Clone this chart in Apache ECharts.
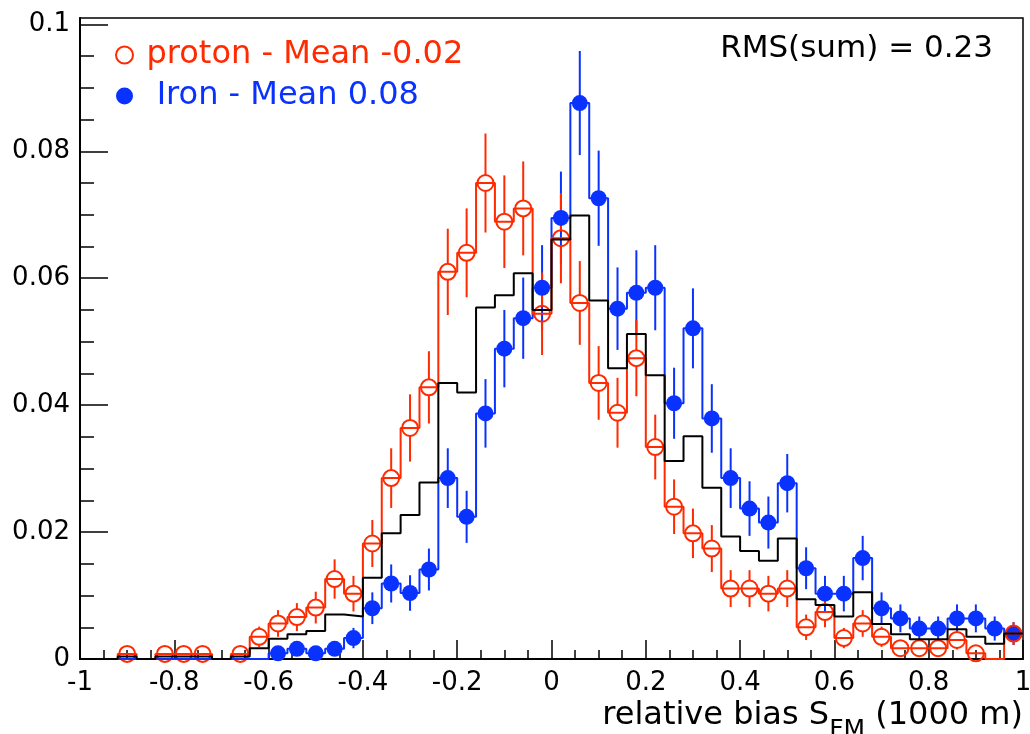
<!DOCTYPE html>
<html>
<head>
<meta charset="utf-8">
<script src="https://cdn.jsdelivr.net/npm/echarts@6/dist/echarts.min.js"></script>
<style>
    html, body { margin: 0; padding: 0; background: #fff; }
    #chartDiv { width: 1030px; height: 734px; }
</style>
</head>
<body>
<div id="chartDiv"></div>
<script>
// bin centres (bin width 0.04)
var binCenters = [-0.98, -0.94, -0.90, -0.86, -0.82, -0.78, -0.74, -0.70, -0.66, -0.62,
    -0.58, -0.54, -0.50, -0.46, -0.42, -0.38, -0.34, -0.30, -0.26, -0.22,
    -0.18, -0.14, -0.10, -0.06, -0.02, 0.02, 0.06, 0.10, 0.14, 0.18,
    0.22, 0.26, 0.30, 0.34, 0.38, 0.42, 0.46, 0.50, 0.54, 0.58,
    0.62, 0.66, 0.70, 0.74, 0.78, 0.82, 0.86, 0.90, 0.94, 0.98];
var binWidth = 0.04;

var protonValues = [0, 0, 0.0008, 0, 0.0008, 0.0008, 0.0008, 0, 0.0008, 0.0035,
    0.0056, 0.0066, 0.0081, 0.0126, 0.0103, 0.0182, 0.0285, 0.0364, 0.0428, 0.0610,
    0.0640, 0.0750, 0.0689, 0.0710, 0.0544, 0.0663, 0.0561, 0.0435, 0.0388, 0.0474,
    0.0334, 0.0240, 0.0198, 0.0174, 0.0111, 0.0111, 0.0103, 0.0111, 0.0050, 0.0074,
    0.0033, 0.0056, 0.0035, 0.0017, 0.0017, 0.0017, 0.0030, 0.0009, 0, 0.0040];
var protonErrors = [0, 0, 0.0008, 0, 0.0008, 0.0008, 0.0008, 0, 0.0008, 0.0016,
    0.0021, 0.0022, 0.0025, 0.0031, 0.0028, 0.0037, 0.0047, 0.0053, 0.0057, 0.0068,
    0.0070, 0.0078, 0.0073, 0.0074, 0.0065, 0.0071, 0.0066, 0.0058, 0.0055, 0.0060,
    0.0051, 0.0043, 0.0039, 0.0037, 0.0029, 0.0029, 0.0028, 0.0029, 0.0020, 0.0024,
    0.0016, 0.0021, 0.0016, 0.0011, 0.0011, 0.0011, 0.0015, 0.0008, 0, 0.0018];

var ironValues = [0, 0, 0, 0, 0, 0, 0, 0, 0, 0,
    0.0009, 0.0016, 0.0009, 0.0016, 0.0033, 0.0080, 0.0119, 0.0104, 0.0141, 0.0285,
    0.0224, 0.0387, 0.0489, 0.0537, 0.0585, 0.0695, 0.0876, 0.0726, 0.0552, 0.0577,
    0.0585, 0.0403, 0.0521, 0.0379, 0.0285, 0.0237, 0.0215, 0.0277, 0.0143, 0.0103,
    0.0103, 0.0159, 0.0080, 0.0064, 0.0048, 0.0048, 0.0064, 0.0064, 0.0048, 0.0040];
var ironErrors = [0, 0, 0, 0, 0, 0, 0, 0, 0, 0,
    0.0008, 0.0011, 0.0008, 0.0011, 0.0016, 0.0025, 0.0030, 0.0028, 0.0033, 0.0047,
    0.0041, 0.0054, 0.0061, 0.0064, 0.0067, 0.0073, 0.0082, 0.0075, 0.0065, 0.0067,
    0.0067, 0.0056, 0.0063, 0.0054, 0.0047, 0.0043, 0.0041, 0.0046, 0.0033, 0.0028,
    0.0028, 0.0035, 0.0025, 0.0022, 0.0019, 0.0019, 0.0022, 0.0022, 0.0019, 0.0018];

var sumValues = [0, 0, 0.0004, 0, 0.0004, 0.0004, 0.0004, 0, 0.0004, 0.0017,
    0.0032, 0.0039, 0.0044, 0.0070, 0.0067, 0.0128, 0.0198, 0.0227, 0.0278, 0.0435,
    0.0420, 0.0554, 0.0573, 0.0608, 0.0550, 0.0661, 0.0699, 0.0565, 0.0458, 0.0512,
    0.0447, 0.0312, 0.0351, 0.0270, 0.0193, 0.0170, 0.0155, 0.0190, 0.0094, 0.0085,
    0.0067, 0.0105, 0.0055, 0.0039, 0.0031, 0.0031, 0.0047, 0.0035, 0.0024, 0.0040];

var yMajorTicks = [0, 0.02, 0.04, 0.06, 0.08, 0.1];
var yMinorTicks = [0.005, 0.01, 0.015, 0.025, 0.03, 0.035, 0.045, 0.05, 0.055,
    0.065, 0.07, 0.075, 0.085, 0.09, 0.095];

var protonName = 'proton - Mean -0.02';
var ironName = ' Iron - Mean 0.08';
var rmsText = 'RMS(sum) = 0.23';

var red = '#ff2a00';
var blue = '#0a32ff';
var font = 'DejaVu Sans';

function stepPoints(vals) {
    var pts = [];
    for (var i = 0; i < vals.length; i++) {
        pts.push([binCenters[i] - binWidth / 2, vals[i]]);
        pts.push([binCenters[i] + binWidth / 2, vals[i]]);
    }
    return pts;
}

function markerPoints(vals) {
    var pts = [];
    for (var i = 0; i < vals.length; i++) {
        if (vals[i] > 0) pts.push([binCenters[i], vals[i]]);
    }
    return pts;
}

function stepSeries(vals, color) {
    return {
        type: 'line', data: stepPoints(vals), symbol: 'none', silent: true,
        lineStyle: {color: color, width: 2}
    };
}

// vertical error bars, with a gap around open markers
function errorSeries(vals, errs, color, gap) {
    var d = [];
    for (var i = 0; i < vals.length; i++) {
        if (vals[i] > 0) d.push([binCenters[i], vals[i], errs[i]]);
    }
    return {
        type: 'custom', data: d, silent: true,
        encode: {x: 0, y: 1},
        renderItem: function (params, api) {
            var x = api.value(0), y = api.value(1), e = api.value(2);
            var c = api.coord([x, y]);
            var t = api.coord([x, y + e]);
            var b = api.coord([x, Math.max(0, y - e)]);
            var kids = [];
            if (c[1] - gap > t[1]) {
                kids.push({type: 'line', shape: {x1: c[0], y1: t[1], x2: c[0], y2: c[1] - gap},
                    style: {stroke: color, lineWidth: 2}});
            }
            if (b[1] > c[1] + gap) {
                kids.push({type: 'line', shape: {x1: c[0], y1: c[1] + gap, x2: c[0], y2: b[1]},
                    style: {stroke: color, lineWidth: 2}});
            }
            return {type: 'group', children: kids};
        }
    };
}

var myChart = echarts.init(document.getElementById('chartDiv'));
var tickStyle = {color: '#000', width: 1.5};
var labelStyle = {color: '#000', fontSize: 26, fontFamily: font};

var option = {
    animation: false,
    backgroundColor: '#fff',
    grid: {
        left: 80, right: 7, top: 18, bottom: 75,
        outerBoundsMode: 'none', containLabel: false,
        show: true, borderColor: '#000', borderWidth: 1.5, backgroundColor: 'transparent'
    },
    legend: {
        orient: 'vertical', left: 110, top: 34,
        itemWidth: 34, itemHeight: 17, itemGap: 9,
        selectedMode: false,
        textStyle: {fontFamily: font, fontSize: 32},
        data: [
            {name: protonName, textStyle: {color: red},
                itemStyle: {color: 'rgba(255,255,255,0)', borderColor: red, borderWidth: 2}},
            {name: ironName, textStyle: {color: blue}, itemStyle: {color: blue}}
        ]
    },
    graphic: [{
        type: 'text', right: 37, top: 33,
        style: {text: rmsText, fill: '#000', fontSize: 31, fontFamily: font}
    }],
    xAxis: {
        type: 'value', min: -1, max: 1, interval: 0.2,
        axisLine: {onZero: false, lineStyle: {color: '#000', width: 2}},
        axisTick: {inside: true, length: 19, lineStyle: tickStyle},
        minorTick: {show: true, splitNumber: 4, length: 9, lineStyle: tickStyle},
        splitLine: {show: false},
        axisLabel: Object.assign({margin: 11}, labelStyle),
        name: '{m|relative bias S}{sub|FM}{m| (1000 m)}',
        nameLocation: 'end', nameGap: 0, nameMoveOverlap: false,
        nameTextStyle: {
            align: 'right', verticalAlign: 'top', padding: [41, 0, 0, 0],
            rich: {
                m: {fontSize: 32, fontFamily: font, color: '#000', lineHeight: 34, verticalAlign: 'top'},
                sub: {fontSize: 25, fontFamily: font, color: '#000', lineHeight: 26,
                    padding: [18, 0, 0, 0], verticalAlign: 'top'}
            }
        }
    },
    yAxis: [{
        type: 'value', min: 0, max: 0.101,
        axisLine: {show: true, onZero: false, lineStyle: {color: '#000', width: 2}},
        axisTick: {show: true, inside: true, length: 28, customValues: yMajorTicks, lineStyle: tickStyle},
        axisLabel: Object.assign({margin: 10, customValues: yMajorTicks}, labelStyle),
        splitLine: {show: false}
    }, {
        type: 'value', min: 0, max: 0.101, position: 'left',
        axisLine: {show: false, onZero: false},
        axisTick: {show: true, inside: true, length: 14, customValues: yMinorTicks, lineStyle: tickStyle},
        axisLabel: {show: false},
        splitLine: {show: false}
    }],
    series: [
        stepSeries(ironValues, blue),
        errorSeries(ironValues, ironErrors, blue, 0),
        {type: 'scatter', name: ironName, data: markerPoints(ironValues),
            symbol: 'circle', symbolSize: 16, itemStyle: {color: blue, opacity: 1}},
        stepSeries(protonValues, red),
        errorSeries(protonValues, protonErrors, red, 8),
        {type: 'scatter', name: protonName, data: markerPoints(protonValues),
            symbol: 'circle', symbolSize: 16,
            itemStyle: {color: 'rgba(255,255,255,0)', borderColor: red, borderWidth: 2, opacity: 1}},
        stepSeries(sumValues, '#000')
    ]
};

myChart.setOption(option);
window.onresize = myChart.resize;
</script>
</body>
</html>
